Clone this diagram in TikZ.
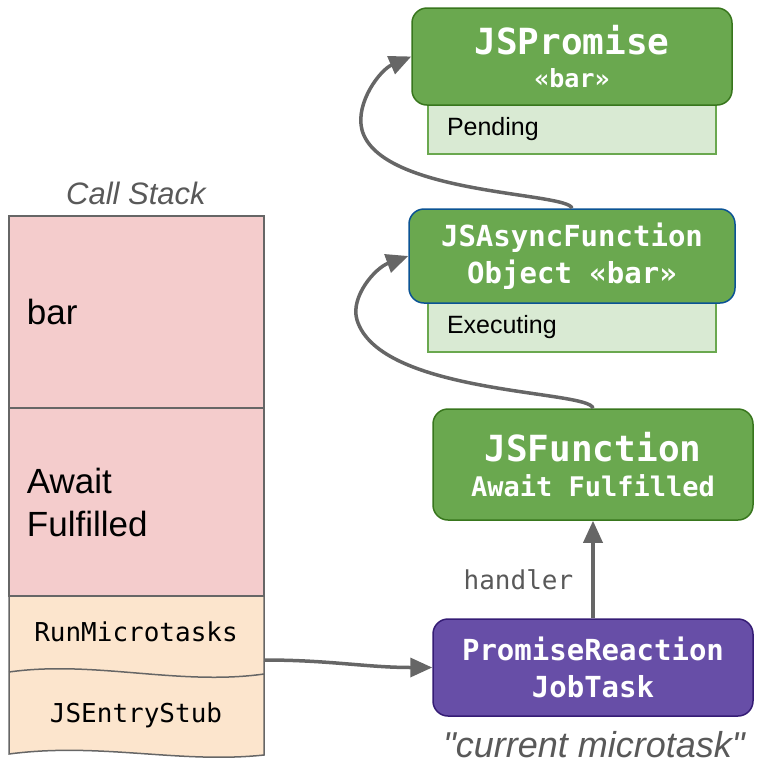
\documentclass[tikz,border=0pt]{standalone}
\usepackage{fontspec}
\setmainfont{Liberation Sans}[Ligatures=TeXOff]
\setmonofont{DejaVu Sans Mono}
\usepackage{tikz}
\usetikzlibrary{arrows.meta}

\definecolor{objgreen}{HTML}{6AA84F}
\definecolor{objgreendark}{HTML}{38761D}
\definecolor{stategreen}{HTML}{D9EAD3}
\definecolor{objblue}{HTML}{0B5394}
\definecolor{taskpurple}{HTML}{674EA7}
\definecolor{taskpurpledark}{HTML}{351C75}
\definecolor{framepink}{HTML}{F4CCCC}
\definecolor{framepeach}{HTML}{FCE5CD}
\definecolor{linegray}{HTML}{666666}
\definecolor{textgray}{HTML}{595959}

\newcommand{\fsz}[2]{\fontsize{#1}{#2}\selectfont}

\begin{document}
\begin{tikzpicture}[x=1pt,y=-1pt,
	obj/.style={draw=objgreendark,fill=objgreen,line width=1.5pt,rounded corners=15pt,
		text=white,align=center},
	objfont/.style 2 args={font=\ttfamily\bfseries\fsz{#1}{#2}},
	objstate/.style={draw=objgreen,fill=stategreen,line width=1.5pt,minimum width=288pt,
		minimum height=49pt,text width=250pt,inner xsep=19pt,align=left,font=\fsz{25}{30}},
	task/.style={obj,draw=taskpurpledark,fill=taskpurple},
	frame/.style={draw=linegray,line width=1.5pt,fill=framepink,minimum width=255pt,
		text width=219pt,inner xsep=18pt,align=left,font=\fsz{35}{43}},
	frametext/.style={font=\ttfamily\fsz{26}{30}},
	link/.style={draw=linegray,line width=3.5pt,-{Triangle[length=22pt,width=19pt]}}]
	\useasboundingbox (0,0) rectangle (762,764);

	% call stack
	\node[text=textgray,font=\itshape\fsz{31}{36}] (cs) at (136,193) {Call Stack};
	\node[frame,minimum height=192pt] (s1) at (136.5,312) {bar};
	\node[frame,minimum height=188pt] (s2) at (136.5,502) {Await\\Fulfilled};
	\draw[draw=linegray,line width=1.5pt,fill=framepeach] (9,596) -- (264,596) -- (264,755)
		.. controls (180,764) and (100,742) .. (9,754) -- cycle;
	\draw[linegray,line width=1.5pt] (9,672) .. controls (94,660) and (179,686) .. (264,674);
	\node[frametext] (s3) at (136,632) {RunMicrotasks};
	\node[frametext] (s4) at (136,715) {JSEntryStub};
	\coordinate (stackout) at (264,660);

	% heap objects
	\node[objstate] (o1s) at (572,129.5) {Pending};
	\node[obj,objfont={25}{33},minimum width=320pt,minimum height=97pt] (o1) at (572,56.5)
		{\fsz{36}{40}JSPromise\\«bar»};
	\node[objstate] (o2s) at (572,327.5) {Executing};
	\node[obj,objfont={29}{37},draw=objblue,minimum width=326pt,minimum height=94pt] (o2)
		at (572,256) {JSAsyncFunction\\Object «bar»};
	\node[obj,objfont={27}{35},minimum width=320pt,minimum height=111pt] (o3) at (593,464.5)
		{\fsz{36}{40}JSFunction\\Await Fulfilled};
	\node[task,objfont={29}{37},minimum width=320pt,minimum height=97pt] (o4) at (593,667.5)
		{PromiseReaction\\JobTask};
	\node[text=textgray,font=\itshape\fsz{36}{40}] (cur) at (594,745)
		{"current microtask"};

	\begin{scope}[every path/.style={link}]
		\draw (o4.north) -- node[pos=0.4,left=18pt,inner sep=0pt,text=textgray,
			font=\ttfamily\fsz{26}{30}] {handler} (o3.south);
		\draw (stackout) to[out=0,in=180] (o4.west);
		\draw (o3.north) .. controls (590,390) and (380,395) .. (357,320)
			.. controls (350,297) and (375,268) .. (o2.west);
		\draw (o2.north) .. controls (568,192) and (380,195) .. (362,130)
			.. controls (355,103) and (380,70) .. (o1.west);
	\end{scope}
\end{tikzpicture}
\end{document}
